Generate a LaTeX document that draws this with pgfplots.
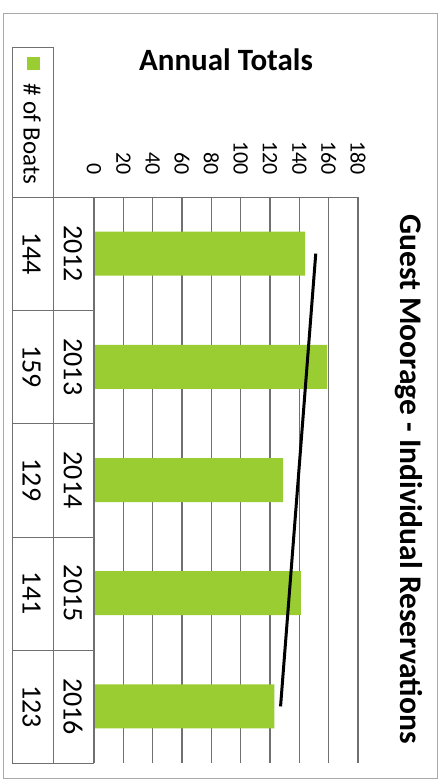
\documentclass[border=0pt]{standalone}
\usepackage{fontspec}
\setmainfont{Carlito}
\usepackage{pgfplots}
\pgfplotsset{compat=1.18}
\definecolor{barg}{HTML}{9ACD32}
\definecolor{gridc}{HTML}{707070}
\begin{document}
\begin{tikzpicture}
\useasboundingbox (0,0) rectangle (441pt,-782pt);
\fill[white] (0,0) rectangle (441pt,-782pt);
\draw[gridc!60, line width=1pt] (3pt,-13pt) rectangle (437pt,-778pt);
\begin{axis}[
  at={(94pt,-197pt)}, anchor=north west,
  scale only axis, width=264pt, height=566pt,
  xmin=0, xmax=180, ymin=-0.5, ymax=4.5, y dir=reverse,
  xtick={0,20,...,180}, ytick=\empty,
  xticklabel pos=upper,
  xmajorgrids, grid style={gridc, line width=1.4pt},
  major tick length=0pt,
  axis line style={draw=none},
  xticklabel shift=19pt,
  xticklabel style={rotate=-90, anchor=east, font=\fontsize{22}{22}\selectfont},
  /pgf/number format/assume math mode=true,
  clip=false,
]
\addplot[xbar, bar width=44pt, fill=barg, draw=none] coordinates {(144,0) (159,1) (129,2) (141,3) (123,4)};
\addplot[black, line width=3pt, no marks] coordinates {(151.2,0) (127.2,4)};
\addplot[draw=none, no marks, nodes near coords, point meta=explicit symbolic,
  every node near coord/.append style={rotate=-90, anchor=center, font=\fontsize{28}{28}\selectfont, text=black}]
  coordinates {(-14.4,0) [2012] (-14.4,1) [2013] (-14.4,2) [2014] (-14.4,3) [2015] (-14.4,4) [2016]};
\addplot[draw=none, no marks, nodes near coords, point meta=explicit symbolic,
  every node near coord/.append style={rotate=-90, anchor=center, font=\fontsize{28}{28}\selectfont, text=black}]
  coordinates {(-42.5,0) [144] (-42.5,1) [159] (-42.5,2) [129] (-42.5,3) [141] (-42.5,4) [123]};
\end{axis}
\draw[gridc, line width=1pt] (12pt,-47pt) -- (53pt,-47pt);
\draw[gridc, line width=1pt] (12pt,-47pt) -- (12pt,-763pt);
\draw[gridc, line width=1pt] (53pt,-47pt) -- (53pt,-763pt);
\draw[gridc, line width=1pt] (94pt,-197pt) -- (94pt,-763pt);
\draw[gridc, line width=1pt] (12pt,-197pt) -- (358pt,-197pt);
\foreach \yy in {310,423,537,650,763} {\draw[gridc, line width=1pt] (12pt,-\yy pt) -- (94pt,-\yy pt);}
\fill[barg] (26.5pt,-56.5pt) rectangle (39.5pt,-69.5pt);
\node[rotate=-90, anchor=center, font=\fontsize{25}{25}\selectfont] at (32pt,-134pt) {\# of Boats};
\node[anchor=center, font=\bfseries\fontsize{31}{31}\selectfont] at (226pt,-60pt) {Annual Totals};
\node[rotate=-90, anchor=center, font=\bfseries\fontsize{31.5}{31.5}\selectfont] at (409pt,-479pt) {Guest Moorage - Individual Reservations};
\end{tikzpicture}
\end{document}
